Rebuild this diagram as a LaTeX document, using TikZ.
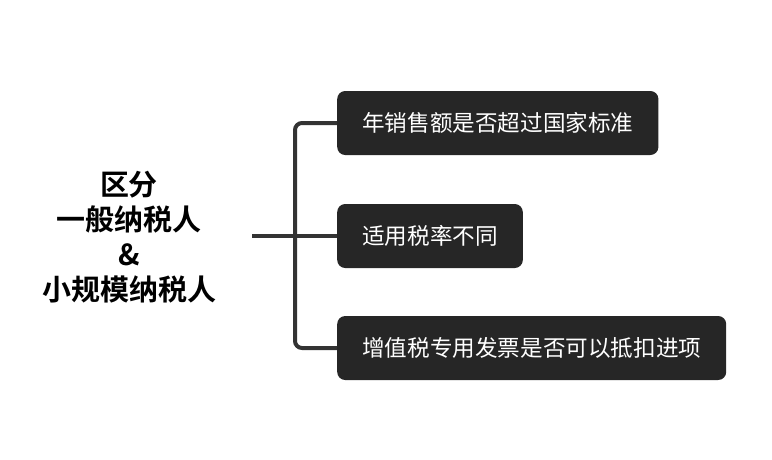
\documentclass[tikz,border=0pt]{standalone}
\usepackage{fontspec}
\newfontfamily\cjk{Noto Sans CJK SC}
\newfontfamily\cjkbold{Noto Sans CJK SC Bold}
\definecolor{boxfill}{HTML}{262626}
\definecolor{linecol}{HTML}{333333}
\begin{document}
\begin{tikzpicture}[x=1pt,y=-1pt,
  topic/.style={fill=boxfill, rounded corners=8pt, text=white, font=\cjk\fontsize{22.6}{26}\selectfont,
    minimum height=64pt, inner xsep=25pt, anchor=west},
  conn/.style={draw=linecol, line width=4pt, rounded corners=7pt},
  root/.style={font=\cjkbold\fontsize{29}{35}\selectfont, align=center}]
\useasboundingbox (0,0) rectangle (772,459);
\node[root] (r) at (129,237) {区分\\一般纳税人\\\&\\小规模纳税人};
\node[topic] (a) at (337,123) {年销售额是否超过国家标准};
\node[topic] (b) at (337,236) {适用税率不同};
\node[topic] (c) at (337,348) {增值税专用发票是否可以抵扣进项};
\coordinate (s) at (252,236);
\coordinate (j) at (295,236);
\draw[conn] (s) -- (b.west);
\draw[conn] (a.west) -- (a.west -| j) -- (c.west -| j) -- (c.west);
\end{tikzpicture}
\end{document}
